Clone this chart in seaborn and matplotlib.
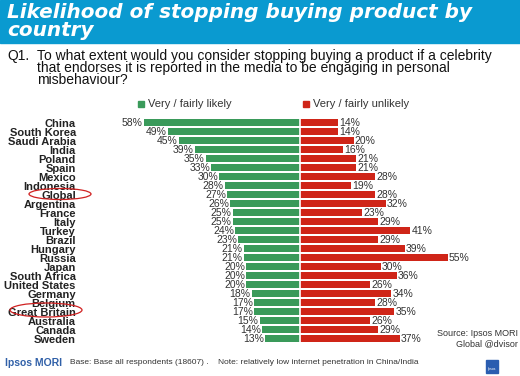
import pandas as pd
import matplotlib
matplotlib.use("Agg")
import matplotlib.pyplot as plt
import seaborn as sns
from matplotlib.patches import Ellipse, Rectangle

sns.set_style("white")
plt.rcParams['font.family'] = ['Liberation Sans', 'DejaVu Sans']

countries = ["China", "South Korea", "Saudi Arabia", "India", "Poland", "Spain",
             "Mexico", "Indonesia", "Global", "Argentina", "France", "Italy",
             "Turkey", "Brazil", "Hungary", "Russia", "Japan", "South Africa",
             "United States", "Germany", "Belgium", "Great Britain", "Australia",
             "Canada", "Sweden"]
likely = [58, 49, 45, 39, 35, 33, 30, 28, 27, 26, 25, 25, 24, 23, 21, 21, 20,
          20, 20, 18, 17, 17, 15, 14, 13]
unlikely = [14, 14, 20, 16, 21, 21, 28, 19, 28, 32, 23, 29, 41, 29, 39, 55, 30,
            36, 26, 34, 28, 35, 26, 29, 37]

green = "#3a9a5a"
red = "#cf2518"
blue = "#0a9ad0"

df = pd.DataFrame({"country": countries, "likely": likely, "unlikely": unlikely})
df["neg"] = -df["likely"]

W, H = 520, 376
fig = plt.figure(figsize=(5.2, 3.76), dpi=100)

# banner
fig.patches.append(Rectangle((0, 1 - 43 / H), 1, 43 / H, transform=fig.transFigure,
                             color=blue, zorder=0))
fig.text(7 / W, 1 - 3 / H, "Likelihood of stopping buying product by\ncountry",
         color="white", fontsize=14.4, fontweight="bold", style="italic",
         family="DejaVu Sans", va="top", ha="left", linespacing=0.9)

# question
fig.text(7 / W, 1 - 56 / H, "Q1.", fontsize=10, va="center", ha="left", color="#111111")
fig.text(37 / W, 1 - 68 / H,
         "To what extent would you consider stopping buying a product if a celebrity\n"
         "that endorses it is reported in the media to be engaging in personal\n"
         "misbehaviour?", fontsize=10, va="center", ha="left", color="#111111",
         linespacing=0.86)

# axes: 2.69 px per percent, zero at x=300 px
ppx = 2.69
left_px, right_px = 80, 515
ax = fig.add_axes([left_px / W, 1 - 343.2 / H, (right_px - left_px) / W, 225 / H])
sns.barplot(data=df, x="neg", y="country", color=green, width=0.78,
            saturation=1, ax=ax, orient="h")
sns.barplot(data=df, x="unlikely", y="country", color=red, width=0.78,
            saturation=1, ax=ax, orient="h")
for p in ax.patches:
    p.set_edgecolor("none")
ax.set_xlim((left_px - 300) / ppx, (right_px - 300) / ppx)
ax.set_ylim(24.5, -0.5)
ax.axvline(0, color="white", lw=1.2)
ax.set_xlabel("")
ax.set_ylabel("")
ax.set_xticks([])
ax.tick_params(axis="y", length=0, pad=3)
for lab in ax.get_yticklabels():
    lab.set_fontweight("bold")
    lab.set_fontsize(8)
    lab.set_color("#222222")
for s in ax.spines.values():
    s.set_visible(False)
ax.patch.set_alpha(0)

for i in range(len(countries)):
    ax.text(-likely[i] - 0.4, i, f"{likely[i]}%", ha="right", va="center",
            fontsize=7.5, color="#333333")
    ax.text(unlikely[i] + 0.4, i, f"{unlikely[i]}%", ha="left", va="center",
            fontsize=7.5, color="#333333")

# legend
fig.patches.append(Rectangle((138 / W, 1 - 107 / H), 6 / W, 6 / H,
                             transform=fig.transFigure, color=green))
fig.text(148 / W, 1 - 104 / H, "Very / fairly likely", fontsize=8,
         va="center", ha="left", color="#333333")
fig.patches.append(Rectangle((303 / W, 1 - 107 / H), 6 / W, 6 / H,
                             transform=fig.transFigure, color=red))
fig.text(313 / W, 1 - 104 / H, "Very / fairly unlikely", fontsize=8,
         va="center", ha="left", color="#333333")

# highlight circles
for cx, cy, w, h in [(60, 194, 62, 11), (46, 310, 72, 14)]:
    fig.patches.append(Ellipse((cx / W, 1 - cy / H), w / W, h / H,
                               transform=fig.transFigure, fill=False,
                               edgecolor="#d02020", lw=0.9, zorder=5))

# footer
fig.text(5 / W, 1 - 363 / H, "Ipsos MORI", fontsize=7.5, fontweight="bold",
         color="#3060a8", va="center", ha="left")
fig.text(70 / W, 1 - 362 / H,
         "Base: Base all respondents (18607) .    Note: relatively low internet "
         "penetration in China/India", fontsize=6, color="#333333",
         va="center", ha="left")
fig.text(518 / W, 1 - 339 / H, "Source: Ipsos MORI\nGlobal @dvisor", fontsize=6.5,
         color="#333333", va="center", ha="right", multialignment="right")
fig.patches.append(Rectangle((486 / W, 1 - 373 / H), 12 / W, 13 / H,
                             transform=fig.transFigure, color="#2a5db0"))
fig.text(492 / W, 1 - 369 / H, "Ipsos", fontsize=2.5, color="white",
         ha="center", va="center")

fig.savefig("out.png", dpi=100)
